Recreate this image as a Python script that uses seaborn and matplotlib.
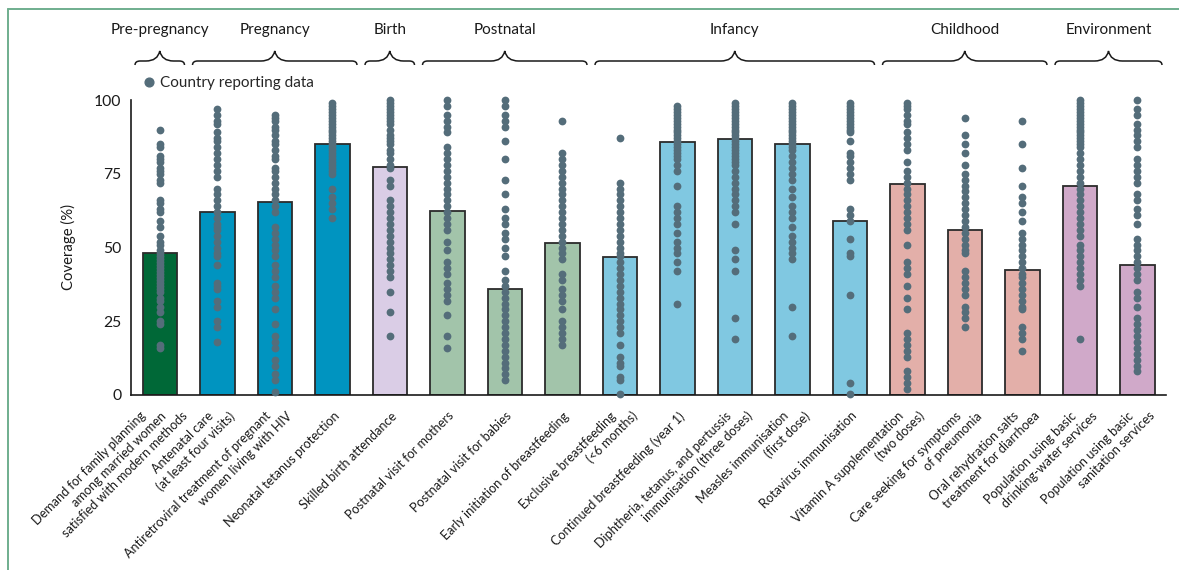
import numpy as np
import pandas as pd
import matplotlib
matplotlib.use('Agg')
import matplotlib.pyplot as plt
import seaborn as sns
from matplotlib import font_manager
from matplotlib.path import Path
from matplotlib.patches import PathPatch
from matplotlib.lines import Line2D
import matplotlib.transforms as mtransforms

# indicators, grouped by stage of life
indicators = [
    "Demand for family planning\namong married women\nsatisfied with modern methods",
    "Antenatal care\n(at least four visits)",
    "Antiretroviral treatment of pregnant\nwomen living with HIV",
    "Neonatal tetanus protection",
    "Skilled birth attendance",
    "Postnatal visit for mothers",
    "Postnatal visit for babies",
    "Early initiation of breastfeeding",
    "Exclusive breastfeeding\n(<6 months)",
    "Continued breastfeeding (year 1)",
    "Diphtheria, tetanus, and pertussis\nimmunisation (three doses)",
    "Measles immunisation\n(first dose)",
    "Rotavirus immunisation",
    "Vitamin A supplementation\n(two doses)",
    "Care seeking for symptoms\nof pneumonia",
    "Oral rehydration salts\ntreatment for diarrhoea",
    "Population using basic\ndrinking-water services",
    "Population using basic\nsanitation services",
]
stage = ["Pre-pregnancy", "Pregnancy", "Pregnancy", "Pregnancy", "Birth",
         "Postnatal", "Postnatal", "Postnatal",
         "Infancy", "Infancy", "Infancy", "Infancy", "Infancy",
         "Childhood", "Childhood", "Childhood",
         "Environment", "Environment"]
stages = ["Pre-pregnancy", "Pregnancy", "Birth", "Postnatal", "Infancy", "Childhood", "Environment"]
stage_colors = {"Pre-pregnancy": "#006837", "Pregnancy": "#0094C0", "Birth": "#DACDE6",
                "Postnatal": "#A2C4AA", "Infancy": "#80C8E1", "Childhood": "#E3AFA9",
                "Environment": "#D0A9C9"}

# median coverage (bar height)
coverage = [48, 62, 65.5, 85, 77.4, 62.3, 35.8, 51.5, 46.7, 85.8, 86.9, 85,
            58.9, 71.4, 55.8, 42.4, 70.8, 44]

# country values (dots)
c_fp = [90, 85, 84, 81, 80, 79, 77, 76, 75, 73, 72, 66, 65, 63, 62, 59, 57, 54, 52, 51,
        49, 48, 47, 46, 45, 44, 43, 42, 41, 40, 39, 38, 37, 36, 35, 33, 32, 30, 28, 25, 24, 17, 16]
c_anc = [97, 95, 93, 92, 89, 87, 86, 84, 82, 80, 78, 76, 74, 70, 68, 66, 64, 62, 60, 58, 57,
         56, 54, 52, 50, 48, 47, 44, 38, 37, 36, 32, 30, 25, 23, 18]
c_art = [95, 94, 93, 91, 90, 88, 86, 85, 83, 81, 80, 77, 76, 74, 72, 70, 68, 66, 64, 62, 57,
         55, 53, 51, 49, 47, 44, 42, 40, 37, 35, 33, 29, 24, 20, 18, 16, 12, 10, 7, 5, 1]
c_tet = [99, 98, 97, 96, 95, 94, 93, 92, 91, 90, 89, 88, 87, 86, 85, 84, 83, 82, 81, 80, 79,
         78, 77, 76, 75, 70, 67, 65, 63, 60]
c_sba = [100, 99, 98, 97, 96, 95, 94, 93, 92, 90, 88, 87, 86, 85, 83, 82, 80, 78, 77, 73, 71,
         66, 64, 62, 60, 58, 56, 54, 52, 50, 48, 46, 44, 42, 40, 35, 28, 20]
c_pnm = [100, 98, 95, 93, 91, 89, 84, 82, 80, 78, 76, 74, 72, 70, 68, 66, 64, 62, 60, 58, 56,
         52, 49, 45, 43, 41, 38, 36, 34, 32, 27, 20, 16]
c_pnb = [100, 98, 95, 93, 91, 86, 80, 73, 68, 63, 60, 58, 55, 53, 50, 47, 42, 39, 37, 35, 33,
         31, 29, 27, 25, 23, 21, 19, 17, 15, 13, 11, 9, 7, 5]
c_eibf = [93, 82, 80, 78, 76, 74, 72, 70, 68, 66, 64, 62, 60, 58, 56, 54, 52, 50, 48, 46, 41,
          39, 36, 34, 32, 29, 25, 23, 21, 19, 17]
c_ebf = [87, 72, 70, 68, 66, 64, 62, 60, 58, 56, 54, 52, 50, 48, 47, 45, 43, 41, 39, 37, 35,
         33, 31, 29, 27, 25, 23, 21, 17, 13, 11, 10, 6, 5, 0.3]
c_cbf = [98, 97, 96, 95, 94, 93, 92, 91, 90, 89, 88, 87, 86, 85, 84, 83, 82, 81, 80, 78, 76,
         71, 64, 62, 60, 58, 55, 52, 50, 48, 45, 42, 31]
c_dtp = [99, 98, 97, 96, 95, 94, 93, 92, 91, 90, 89, 88, 87, 86, 85, 84, 83, 82, 81, 80, 79,
         78, 76, 74, 72, 70, 68, 66, 64, 62, 58, 49, 46, 42, 26, 19]
c_mcv = [99, 98, 97, 96, 95, 94, 93, 92, 91, 90, 89, 88, 87, 86, 85, 84, 83, 81, 79, 77, 75,
         73, 70, 67, 64, 62, 60, 57, 54, 52, 50, 48, 46, 30, 20]
c_rota = [99, 98, 97, 96, 95, 94, 93, 92, 91, 90, 89, 86, 82, 81, 79, 77, 75, 73, 63, 61, 59,
          53, 48, 47, 34, 4, 0.3]
c_vita = [99, 98, 97, 95, 93, 92, 89, 87, 85, 83, 79, 76, 74, 72, 70, 68, 66, 64, 62, 60, 58,
          56, 51, 45, 43, 41, 37, 33, 29, 21, 19, 17, 15, 13, 8, 6, 4, 2]
c_pneu = [94, 88, 85, 82, 78, 75, 73, 71, 69, 67, 65, 63, 61, 59, 57, 55, 53, 51, 49, 48, 42,
          40, 38, 36, 34, 30, 28, 26, 23]
c_ors = [93, 85, 77, 71, 67, 65, 62, 59, 55, 53, 51, 49, 47, 45, 43, 41, 40, 38, 36, 34, 32,
         30, 29, 23, 21, 19, 15]
c_water = [100, 99, 98, 97, 96, 95, 94, 93, 92, 91, 90, 89, 88, 87, 86, 85, 84, 82, 80, 78, 76,
           74, 72, 70, 68, 66, 64, 62, 60, 58, 56, 54, 51, 49, 47, 45, 43, 41, 39, 37, 19]
c_sani = [100, 97, 95, 92, 90, 88, 86, 84, 80, 78, 76, 74, 72, 68, 66, 63, 61, 58, 53, 51, 49,
          47, 45, 43, 41, 39, 35, 33, 30, 26, 24, 22, 20, 18, 16, 14, 12, 10, 8]

country_values = [c_fp, c_anc, c_art, c_tet, c_sba, c_pnm, c_pnb, c_eibf, c_ebf, c_cbf,
                  c_dtp, c_mcv, c_rota, c_vita, c_pneu, c_ors, c_water, c_sani]

df_bar = pd.DataFrame({'indicator': indicators, 'coverage': coverage, 'stage': stage})
df_pts = pd.DataFrame([(ind, v) for ind, vals in zip(indicators, country_values) for v in vals],
                      columns=['indicator', 'value'])

# fonts
sns.set_style('white')
plt.rcParams['font.family'] = ['Lato', 'DejaVu Sans']
fs = 9.7
ink = '#1a1a1a'

W, H = 1179, 570
fig = plt.figure(figsize=(W / 100, H / 100), dpi=100)
ax = fig.add_axes([131 / W, 1 - 395 / H, (1166 - 131) / W, 295 / H])

bar_palette = [stage_colors[s] for s in stage]
sns.barplot(data=df_bar, x='indicator', y='coverage', hue='indicator', palette=bar_palette,
            saturation=1, width=0.6, edgecolor='#2b2b2b', linewidth=1.3, legend=False,
            ax=ax, zorder=2)
sns.stripplot(data=df_pts, x='indicator', y='value', jitter=False, color='#546D7A',
              size=5.6, linewidth=0, ax=ax, zorder=3)
for coll in ax.collections:
    coll.set_clip_on(False)

ax.set_xlim(-0.5, len(indicators) - 0.5)
ax.set_ylim(0, 100)
ax.set_yticks([0, 25, 50, 75, 100])
ax.set_xticks(np.arange(-0.5, len(indicators), 1))
ax.set_xticklabels([])
ax.tick_params(axis='y', length=5, width=1.2, color=ink, labelsize=fs + 1.6, labelcolor=ink, pad=2)
ax.tick_params(axis='x', length=8, width=1.2, color=ink, direction='out')
ax.set_xlabel('')
ax.set_ylabel('Coverage (%)', fontsize=fs + 1, color=ink)
ax.yaxis.set_label_coords(-0.053, 0.5)
sns.despine(ax=ax)
for side in ['left', 'bottom']:
    ax.spines[side].set_linewidth(1.2)
    ax.spines[side].set_color(ink)

# rotated indicator labels: every line ends just under the axis, lines step to the right
step = 21
for i, lab in enumerate(indicators):
    lines = lab.split('\n')
    n = len(lines)
    for k, line in enumerate(lines):
        dx = 5 + (k - (n - 1) / 2) * step
        tr = ax.get_xaxis_transform() + mtransforms.ScaledTranslation(dx / 100, -19 / 100, fig.dpi_scale_trans)
        ax.text(i, 0, line, transform=tr, rotation=45, rotation_mode='anchor', ha='right',
                va='center', fontsize=9.1, color=ink)

# stage headers with curly braces
bt = mtransforms.blended_transform_factory(ax.transData, fig.transFigure)
y_line, y_peak, y_end = 1 - 61 / H, 1 - 51 / H, 1 - 65 / H
for s in stages:
    idx = [i for i, st in enumerate(stage) if st == s]
    x0, x1 = idx[0] - 0.5 + 0.07, idx[-1] + 0.5 - 0.07
    xm = (x0 + x1) / 2
    r, r2 = 0.09, 0.24
    verts = [(x0, y_end), (x0, y_line), (x0 + r, y_line), (xm - r2, y_line),
             (xm - r2 * 0.15, y_line), (xm, y_peak), (xm + r2 * 0.15, y_line), (xm + r2, y_line),
             (x1 - r, y_line), (x1, y_line), (x1, y_end)]
    codes = [Path.MOVETO, Path.CURVE3, Path.CURVE3, Path.LINETO, Path.CURVE3, Path.CURVE3,
             Path.CURVE3, Path.CURVE3, Path.LINETO, Path.CURVE3, Path.CURVE3]
    ax.add_patch(PathPatch(Path(verts, codes), transform=bt, fill=False, lw=1.1,
                           edgecolor=ink, clip_on=False))
    ax.text(xm, 1 - 30 / H, s, transform=bt, ha='center', va='center', fontsize=fs + 1.3, color=ink)

handle = Line2D([], [], marker='o', linestyle='', color='#546D7A', markersize=6.3)
ax.legend(handles=[handle], labels=['Country reporting data'], loc='center left',
          bbox_to_anchor=(143 / W, 1 - 83 / H), bbox_transform=fig.transFigure, frameon=False,
          handlelength=0.8, handletextpad=0.3, borderpad=0, borderaxespad=0,
          prop={'size': fs + 1.3})

# green frame
frame = '#6FAE8E'
fig.add_artist(Line2D([8 / W, 8 / W], [0, 1 - 9 / H], transform=fig.transFigure, color=frame, lw=1.4))
fig.add_artist(Line2D([8 / W, 1], [1 - 9 / H, 1 - 9 / H], transform=fig.transFigure, color=frame, lw=1.4))

plt.savefig('out.png', dpi=100)
